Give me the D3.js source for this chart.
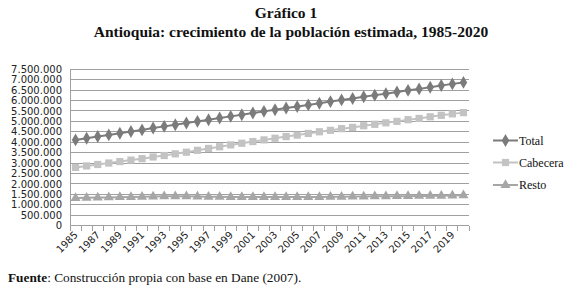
<!DOCTYPE html>
<html><head><meta charset="utf-8">
<script src="https://cdn.jsdelivr.net/npm/d3@7"></script>
<style>body{margin:0;background:#fff}svg{display:block}</style>
</head><body>
<svg id="c" width="572" height="290"></svg>
<script>
const years = d3.range(1985, 2021);
const tickLabels = ["1985","1987","1989","1991","1993","1995","1997","1999","2001","2003","2005","2007","2009","2011","2013","2015","2017","2019"];
const yTicks = [0,500000,1000000,1500000,2000000,2500000,3000000,3500000,4000000,4500000,5000000,5500000,6000000,6500000,7000000,7500000];
const seriesNames = ["Total","Cabecera","Resto"];
const total = [4110000,4190000,4270000,4350000,4430000,4510000,4590000,4680000,4760000,4840000,4920000,5000000,5080000,5160000,5240000,5320000,5400000,5480000,5560000,5640000,5710000,5790000,5870000,5950000,6030000,6100000,6180000,6260000,6330000,6410000,6490000,6560000,6640000,6720000,6800000,6870000];
const cabecera = [2790000,2860000,2930000,3000000,3070000,3140000,3210000,3290000,3360000,3440000,3520000,3610000,3700000,3780000,3870000,3950000,4030000,4110000,4190000,4270000,4340000,4420000,4500000,4570000,4650000,4710000,4790000,4860000,4930000,5000000,5080000,5140000,5220000,5290000,5360000,5420000];
const resto = [1320000,1330000,1340000,1350000,1360000,1370000,1380000,1390000,1400000,1400000,1400000,1390000,1380000,1380000,1370000,1370000,1370000,1370000,1370000,1370000,1370000,1370000,1370000,1380000,1380000,1390000,1390000,1400000,1400000,1410000,1410000,1420000,1420000,1430000,1440000,1450000];

const svg = d3.select("#c");
const L = 70, R = 469, T = 69.3, B = 225.5;
const x = d3.scaleBand().domain(years).range([L, R]).padding(0);
const y = d3.scaleLinear().domain([0, 7500000]).range([B, T]);
const fmt = v => d3.format(",")(v).replace(/,/g, ".");
const gridC = "#a0a0a0";

// gridlines
svg.append("g").selectAll("line").data(yTicks.slice(1)).join("line")
  .attr("x1", L).attr("x2", R).attr("y1", d => y(d)).attr("y2", d => y(d))
  .attr("stroke", gridC).attr("stroke-width", 1).attr("shape-rendering","crispEdges");

// y axis
const yAx = svg.append("g").attr("transform", `translate(${L},0)`)
  .call(d3.axisLeft(y).tickValues(yTicks).tickFormat(fmt).tickSize(0).tickPadding(8));
yAx.select(".domain").attr("stroke", gridC).attr("shape-rendering","crispEdges");
yAx.selectAll("text").attr("font-family","DejaVu Sans").attr("font-size","10px").attr("fill","#222");

// x axis
const xAx = svg.append("g").attr("transform", `translate(0,${B})`);
xAx.append("line").attr("x1", L).attr("x2", R).attr("y1", 0).attr("y2", 0)
  .attr("stroke", gridC).attr("shape-rendering","crispEdges");
const edges = years.map(d => x(d)).concat([R]);
xAx.selectAll(".tk").data(edges).join("line").attr("class","tk")
  .attr("x1", d => d).attr("x2", d => d).attr("y1", 0).attr("y2", 5)
  .attr("stroke", gridC).attr("shape-rendering","crispEdges");
xAx.selectAll(".lb").data(tickLabels).join("text").attr("class","lb")
  .attr("transform", d => `translate(${x(+d) + x.bandwidth()/2 + 3},${10}) rotate(-45)`)
  .attr("text-anchor","end").attr("font-family","DejaVu Sans").attr("font-size","10px")
  .attr("fill","#222").text(d => d);

const cx = d => x(d) + x.bandwidth()/2;
const series = [
  {name: seriesNames[0], data: total, color: "#7b7b7b", shape: d3.symbolDiamond, size: 48},
  {name: seriesNames[1], data: cabecera, color: "#c3c3c3", shape: d3.symbolSquare, size: 52},
  {name: seriesNames[2], data: resto, color: "#a6a6a6", shape: d3.symbolTriangle, size: 44}
];
const line = d3.line().x((d,i) => cx(years[i])).y(d => y(d));
series.slice().reverse().forEach(s => {
  const g = svg.append("g");
  g.append("path").attr("d", line(s.data)).attr("fill","none").attr("stroke", s.color).attr("stroke-width", 2);
  g.selectAll("path.m").data(s.data).join("path").attr("class","m")
    .attr("transform", (d,i) => `translate(${cx(years[i])},${y(d)})`)
    .attr("d", d3.symbol(s.shape, s.size)).attr("fill", s.color);
});

// legend
const legY = [140.5, 162.5, 185];
series.forEach((s, i) => {
  const g = svg.append("g").attr("transform", `translate(493,${legY[i]})`);
  g.append("line").attr("x1",0).attr("x2",25).attr("stroke", s.color).attr("stroke-width",2);
  g.append("path").attr("transform","translate(12.5,0)").attr("d", d3.symbol(s.shape, s.size)).attr("fill", s.color);
  g.append("text").attr("x",26).attr("y",4).attr("font-family","Liberation Serif").attr("font-size","12px")
    .attr("fill","#111").text(s.name);
});

// titles
svg.append("text").attr("x",286).attr("y",18).attr("text-anchor","middle")
  .attr("font-family","Liberation Serif").attr("font-weight","bold").attr("font-size","15.5px").attr("fill","#111")
  .text("Gráfico 1");
svg.append("text").attr("x",291).attr("y",37).attr("text-anchor","middle")
  .attr("font-family","Liberation Serif").attr("font-weight","bold").attr("font-size","15.5px").attr("fill","#111")
  .text("Antioquia: crecimiento de la población estimada, 1985-2020");
const f = svg.append("text").attr("x",8).attr("y",282)
  .attr("font-family","Liberation Serif").attr("font-size","13.3px").attr("fill","#111");
f.append("tspan").attr("font-weight","bold").text("Fuente");
f.append("tspan").text(": Construcción propia con base en Dane (2007).");
</script>
</body></html>
